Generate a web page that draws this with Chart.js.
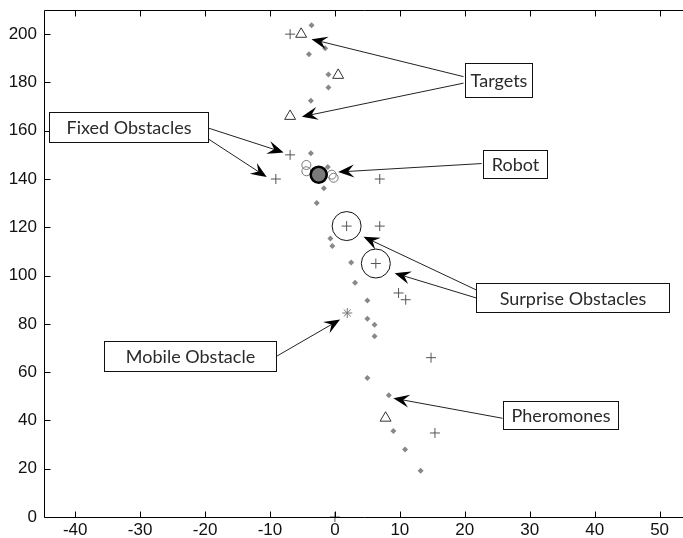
<!DOCTYPE html>
<html>
<head>
<meta charset="utf-8">
<script src="https://cdn.jsdelivr.net/npm/chart.js@4.4.1/dist/chart.umd.min.js"></script>
<style>
  html, body { margin: 0; padding: 0; background: #fff; overflow: hidden; }
  #wrap { width: 683px; height: 538px; }
</style>
</head>
<body>
<div id="wrap"><canvas id="c" width="683" height="538"></canvas></div>
<script>
// Axis ticks
const xTicks = [-40, -30, -20, -10, 0, 10, 20, 30, 40, 50];
const yTicks = [0, 20, 40, 60, 80, 100, 120, 140, 160, 180, 200];

// Scene contents, [x, y] pairs
const targets = [[-5.2, 200], [0.5, 183], [-6.9, 166], [7.8, 41]];
const fixedObstacles = [[-6.9, 200], [-6.9, 150], [-9.1, 140], [6.9, 140], [6.9, 120.5],
                        [9.8, 92.8], [10.9, 90], [14.8, 66], [15.4, 34.8]];
const nest = [[0, 0]];
const surpriseObstacles = [[1.8, 120.5], [6.3, 105]];
const robot = [[-2.5, 141.8]];
const robotEcho = [[-4.4, 145.8], [-4.4, 143.2], [-0.5, 141.8], [-0.2, 140.5]];
const mobileObstacle = [[1.9, 84.5]];
const pheromones = [[-3.6, 203.7], [-1.5, 194.2], [-4.0, 191.7], [-1.0, 183.3], [-1.0, 177.9],
                    [-3.7, 172.4], [-3.7, 150.7], [-1.1, 145.0], [-1.7, 136.2], [-2.8, 130.1],
                    [-0.7, 115.4], [-0.4, 112.3], [2.5, 105.4], [3.1, 97.0], [5.0, 89.7],
                    [5.0, 82.1], [6.1, 79.6], [6.1, 74.9], [5.0, 57.6], [8.3, 50.4],
                    [9.0, 35.6], [10.8, 28.0], [13.2, 19.2]];

// Callout labels: box corners [x0, yTop, x1, yBottom] and arrows [from, to] in axis units
const notes = [
  { text: 'Targets', box: [20.0, 188.2, 30.3, 173.8],
    arrows: [[[19.8, 182.4], [-3.6, 197.9]], [[19.8, 179.7], [-5.1, 165.8]]] },
  { text: 'Fixed Obstacles', box: [-44.1, 167.6, -19.5, 155.5],
    arrows: [[[-19.5, 161.1], [-7.9, 151.0]], [[-19.5, 156.6], [-10.5, 140.8]]] },
  { text: 'Robot', box: [22.8, 152.0, 32.7, 140.3],
    arrows: [[[22.6, 146.4], [0.5, 142.9]]] },
  { text: 'Surprise Obstacles', box: [21.8, 97.1, 51.4, 84.8],
    arrows: [[[21.8, 94.0], [4.4, 116.1]], [[21.8, 90.7], [9.2, 101.0]]] },
  { text: 'Mobile Obstacle', box: [-35.5, 73.0, -9.0, 60.6],
    arrows: [[[-8.9, 66.7], [0.8, 81.8]]] },
  { text: 'Pheromones', box: [25.9, 48.1, 43.6, 36.3],
    arrows: [[[25.8, 40.9], [9.0, 49.2]]] }
];

const pts = arr => arr.map(([x, y]) => ({ x, y }));

// Large markers should not shrink the plot area
Chart.ScatterController.prototype.getMaxOverflow = function () { return 0; };

function drawArrow(ctx, x0, y0, x1, y1) {
  const a = Math.atan2(y1 - y0, x1 - x0);
  const L = 16, W = 6.5, N = 10;
  ctx.beginPath();
  ctx.moveTo(x0, y0);
  ctx.lineTo(x1 - Math.cos(a) * N, y1 - Math.sin(a) * N);
  ctx.strokeStyle = '#222';
  ctx.lineWidth = 1;
  ctx.stroke();
  ctx.save();
  ctx.translate(x1, y1);
  ctx.rotate(a);
  ctx.beginPath();
  ctx.moveTo(0, 0);
  ctx.quadraticCurveTo(-L * 0.5, W * 0.5, -L, W);
  ctx.lineTo(-N, 0);
  ctx.lineTo(-L, -W);
  ctx.quadraticCurveTo(-L * 0.5, -W * 0.5, 0, 0);
  ctx.closePath();
  ctx.fillStyle = '#000';
  ctx.fill();
  ctx.restore();
}

// Box frame with inward ticks on left, bottom and top
const framePlugin = {
  id: 'frame',
  afterDatasetsDraw(chart) {
    const { ctx, chartArea: a, scales: { x, y } } = chart;
    const T = 6;
    ctx.save();
    ctx.strokeStyle = '#000';
    ctx.lineWidth = 1;
    ctx.beginPath();
    const l = Math.round(a.left) + 0.5, b = Math.round(a.bottom) + 0.5, t = Math.round(a.top) + 0.5;
    ctx.moveTo(a.right + 1, t); ctx.lineTo(l, t); ctx.lineTo(l, b); ctx.lineTo(a.right + 1, b);
    xTicks.forEach(v => {
      const px = Math.round(x.getPixelForValue(v)) + 0.5;
      ctx.moveTo(px, b); ctx.lineTo(px, b - T);
      ctx.moveTo(px, t); ctx.lineTo(px, t + T);
    });
    yTicks.forEach(v => {
      const py = Math.round(y.getPixelForValue(v)) + 0.5;
      ctx.moveTo(l, py); ctx.lineTo(l + T, py);
    });
    ctx.stroke();
    ctx.restore();
  }
};

const notesPlugin = {
  id: 'notes',
  afterDraw(chart) {
    const { ctx, scales: { x, y } } = chart;
    ctx.save();
    notes.forEach(n => {
      n.arrows.forEach(([from, to]) => drawArrow(ctx,
        x.getPixelForValue(from[0]), y.getPixelForValue(from[1]),
        x.getPixelForValue(to[0]), y.getPixelForValue(to[1])));
    });
    notes.forEach(n => {
      const L = Math.round(x.getPixelForValue(n.box[0])) + 0.5;
      const T = Math.round(y.getPixelForValue(n.box[1])) + 0.5;
      const R = Math.round(x.getPixelForValue(n.box[2])) + 0.5;
      const B = Math.round(y.getPixelForValue(n.box[3])) + 0.5;
      ctx.fillStyle = '#fff';
      ctx.fillRect(L, T, R - L, B - T);
      ctx.strokeStyle = '#111';
      ctx.lineWidth = 1;
      ctx.strokeRect(L, T, R - L, B - T);
      ctx.fillStyle = '#2a2a2a';
      ctx.font = '18px Lato';
      ctx.textAlign = 'center';
      ctx.textBaseline = 'middle';
      ctx.fillText(n.text, (L + R) / 2, (T + B) / 2 + 1);
    });
    ctx.restore();
  }
};

const noPad = s => { s.paddingTop = 0; s.paddingBottom = 0; s.paddingLeft = 0; s.paddingRight = 0; };

new Chart(document.getElementById('c'), {
  type: 'scatter',
  data: {
    datasets: [
      { label: 'Robot', data: pts(robot), pointStyle: 'circle', pointRadius: 8,
        pointBackgroundColor: '#7a7a7a', pointBorderColor: '#000', pointBorderWidth: 2.5 },
      { label: 'Robot echo', data: pts(robotEcho), pointStyle: 'circle', pointRadius: 4.5,
        pointBackgroundColor: 'rgba(0,0,0,0)', pointBorderColor: '#777', pointBorderWidth: 1 },
      { label: 'Surprise obstacles', data: pts(surpriseObstacles), pointStyle: 'circle', pointRadius: 14.5,
        pointBackgroundColor: 'rgba(0,0,0,0)', pointBorderColor: '#111', pointBorderWidth: 1 },
      { label: 'Surprise obstacle centres', data: pts(surpriseObstacles), pointStyle: 'cross', pointRadius: 5,
        pointBorderColor: '#555', pointBorderWidth: 1 },
      { label: 'Targets', data: pts(targets), pointStyle: 'triangle', pointRadius: 6.3,
        pointBackgroundColor: '#fff', pointBorderColor: '#333', pointBorderWidth: 1 },
      { label: 'Fixed obstacles', data: pts(fixedObstacles), pointStyle: 'cross', pointRadius: 5,
        pointBorderColor: '#555', pointBorderWidth: 1 },
      { label: 'Nest', data: pts(nest), pointStyle: 'cross', pointRadius: 5, clip: false,
        pointBorderColor: '#555', pointBorderWidth: 1 },
      { label: 'Mobile obstacle', data: pts(mobileObstacle), pointStyle: 'star', pointRadius: 5,
        pointBorderColor: '#777', pointBorderWidth: 1 },
      { label: 'Pheromones', data: pts(pheromones), pointStyle: 'rectRot', pointRadius: 3,
        pointBackgroundColor: '#888', pointBorderColor: '#888', pointBorderWidth: 0 }
    ]
  },
  options: {
    responsive: false,
    animation: false,
    events: [],
    layout: { padding: { top: 10, left: 0, right: 0, bottom: 0 } },
    plugins: { legend: { display: false }, tooltip: { enabled: false } },
    scales: {
      x: {
        type: 'linear', position: 'bottom', min: -44.8, max: 53.6,
        afterBuildTicks: s => { s.ticks = xTicks.map(v => ({ value: v })); },
        afterFit: s => { s.height = 21; noPad(s); },
        grid: { display: false, drawTicks: false },
        border: { display: false },
        ticks: { autoSkip: false, maxRotation: 0, padding: 3, color: '#111',
                 font: { family: 'Liberation Sans', size: 17 } }
      },
      y: {
        type: 'linear', position: 'left', min: 0, max: 210,
        afterBuildTicks: s => { s.ticks = yTicks.map(v => ({ value: v })); },
        afterFit: s => { s.width = 44; noPad(s); },
        grid: { display: false, drawTicks: false },
        border: { display: false },
        ticks: { autoSkip: false, padding: 7, color: '#111',
                 font: { family: 'Liberation Sans', size: 17 } }
      }
    }
  },
  plugins: [framePlugin, notesPlugin]
});
</script>
</body>
</html>
